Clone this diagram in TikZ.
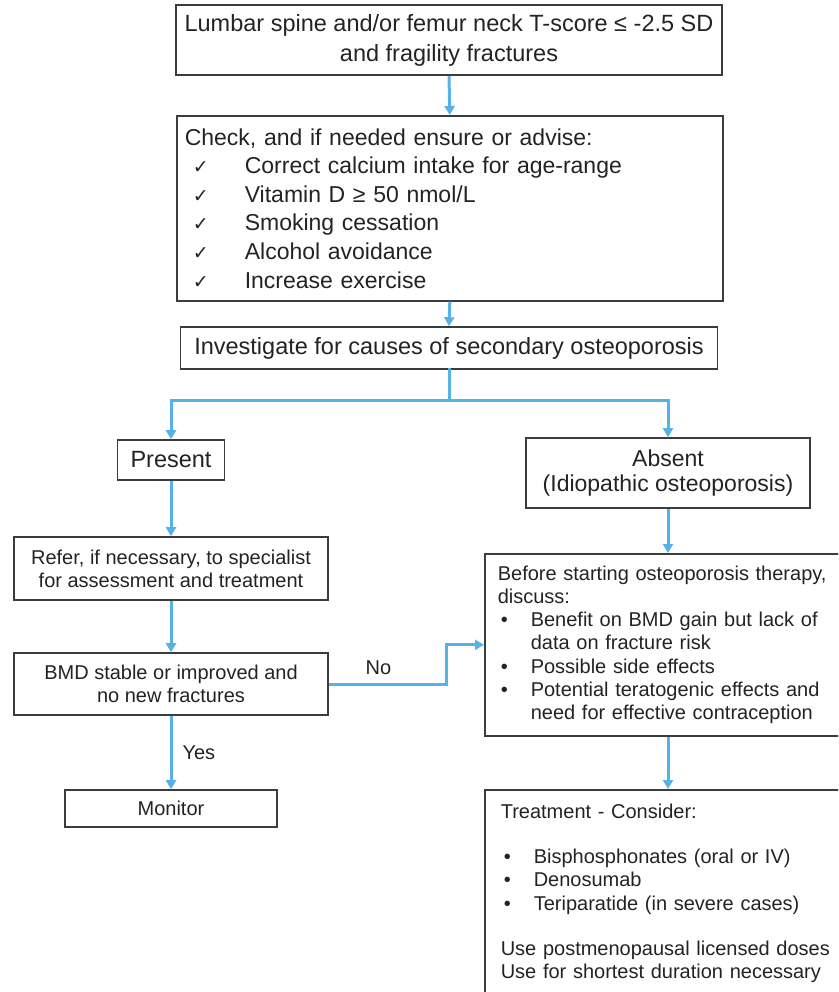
\documentclass[tikz,border=0pt]{standalone}
\usepackage{fontspec}
\setmainfont{Liberation Sans}
\newfontfamily\symfont{DejaVu Sans}
\usetikzlibrary{arrows.meta}

\definecolor{flowblue}{RGB}{86,178,230}
\definecolor{boxgray}{RGB}{60,60,60}
\definecolor{inkgray}{RGB}{35,35,35}

\tikzset{
    box/.style={draw=boxgray, line width=1.6pt, text=inkgray, inner sep=0pt, align=center},
    flow/.style={draw=flowblue, line width=3pt, -{Triangle[length=9pt,width=10pt]}},
    link/.style={draw=flowblue, line width=3pt, line cap=rect},
    big/.style={font=\fontsize{23.5}{30}\selectfont},
    small/.style={font=\fontsize{20}{23.3}\selectfont},
    lbl/.style={text=inkgray, font=\fontsize{20}{23}\selectfont, inner sep=0pt},
}
\newcommand{\chk}{\hspace*{8pt}\makebox[52pt][l]{\symfont\fontsize{19}{19}\selectfont ✓}}
\newcommand{\blt}{\hspace*{3pt}\makebox[30pt][l]{•}}

\begin{document}
\begin{tikzpicture}[x=1pt,y=-1pt]
    \useasboundingbox (0,0) rectangle (838,992);
    \clip (0,0) rectangle (838,992);
    % central column
    \node[box, big, minimum width=546pt, minimum height=70pt] (lumbar) at (449,40)
        {Lumbar spine and/or femur neck T-score ≤ -2.5 SD\\and fragility fractures};
    \node[box, font=\fontsize{23}{28.6}\selectfont, anchor=north west, align=left,
        text width=530pt, inner xsep=8pt, minimum height=185pt] (check) at (176,115)
        {Check, and if needed ensure or advise:\\
        \chk Correct calcium intake for age-range\\
        \chk Vitamin D ≥ 50 nmol/L\\
        \chk Smoking cessation\\
        \chk Alcohol avoidance\\
        \chk Increase exercise};
    \node[box, big, minimum width=537pt, minimum height=42pt] (invest) at (449,348)
        {Investigate for causes of secondary osteoporosis};
    % left column
    \node[box, big, minimum width=107pt, minimum height=40pt] (present) at (171,460) {Present};
    \node[box, small, minimum width=314pt, minimum height=63pt] (refer) at (171,568.5)
        {Refer, if necessary, to specialist\\for assessment and treatment};
    \node[box, small, minimum width=314pt, minimum height=62pt] (bmd) at (171,684)
        {BMD stable or improved and\\no new fractures};
    \node[box, small, minimum width=212pt, minimum height=37pt] (monitor) at (171,808.5) {Monitor};
    % right column
    \node[box, font=\fontsize{23}{25.5}\selectfont, minimum width=284pt, minimum height=70pt] (absent) at (668,473)
        {Absent\\(Idiopathic osteoporosis)};
    \node[box, small, anchor=north west, align=left, text width=400pt,
        inner xsep=13pt, minimum height=182pt] (discuss) at (484,553)
        {Before starting osteoporosis therapy,\\
        discuss:\\
        \blt Benefit on BMD gain but lack of\\
        \hspace*{33pt}data on fracture risk\\
        \blt Possible side effects\\
        \blt Potential teratogenic effects and\\
        \hspace*{33pt}need for effective contraception};
    \node[box, small, anchor=north west, align=left, text width=400pt,
        inner xsep=16pt, inner ysep=14pt] (treat) at (484,789)
        {Treatment - Consider:\\[22pt]
        \blt Bisphosphonates (oral or IV)\\
        \blt Denosumab\\
        \blt Teriparatide (in severe cases)\\[22pt]
        Use postmenopausal licensed doses\\
        Use for shortest duration necessary\\
        \mbox{}};

    \coordinate (split) at (449,400);
    \draw[flow] (lumbar.south) -- (check.north);
    \draw[flow] (check.south) -- (invest.north);
    \draw[link] (invest.south) -- (split);
    \draw[flow] (split) -| (present.north);
    \draw[flow] (split) -| (absent.north);
    \draw[flow] (present.south) -- (refer.north);
    \draw[flow] (refer.south) -- (bmd.north);
    \draw[flow] (bmd.south) -- node[lbl, right=10pt] (yes) {Yes} (monitor.north);
    \draw[flow] (bmd.east) -- node[lbl, above=8pt, pos=0.42] (no) {No} ++(118,0) |- (discuss.west);
    \draw[flow] (absent.south) -- (absent.south |- discuss.north);
    \draw[flow] (absent.south |- discuss.south) -- (absent.south |- treat.north);
\end{tikzpicture}
\end{document}
